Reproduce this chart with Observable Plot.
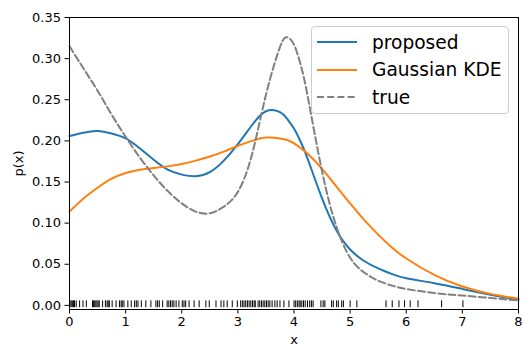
<!DOCTYPE html>
<html>
<head>
<meta charset="utf-8">
<script src="https://cdn.jsdelivr.net/npm/d3@7"></script>
<script src="https://cdn.jsdelivr.net/npm/@observablehq/plot@0.6"></script>
<style>
  html, body { margin: 0; padding: 0; background: white; }
  #wrap { position: relative; width: 522px; height: 347px; font-family: "DejaVu Sans", sans-serif; }
  #legend { position: absolute; left: 311px; top: 26px; width: 198px; height: 88px;
    border: 1px solid #cccccc; border-radius: 4px; background: rgba(255,255,255,0.8); box-sizing: border-box; }
  .entry { position: absolute; left: 0; height: 28px; display: flex; align-items: center; }
  .entry svg { margin-left: 5px; }
  .entry span { margin-left: 15px; font-size: 18.6px; color: black; white-space: nowrap; }
</style>
</head>
<body>
<div id="wrap"></div>
<script>
// Grid of x values along the density curves
const xs = [0, 0.25, 0.5, 0.75, 1, 1.25, 1.5, 1.75, 2, 2.25, 2.5, 2.75, 3, 3.25, 3.5, 3.75, 3.875, 4, 4.125, 4.25, 4.5, 4.75, 5, 5.25, 5.5, 5.75, 6, 6.5, 7, 7.5, 8];
// "proposed" estimate
const proposed = [0.206, 0.210, 0.212, 0.209, 0.203, 0.191, 0.177, 0.165, 0.159, 0.157, 0.162, 0.176, 0.196, 0.219, 0.236, 0.235, 0.227, 0.215, 0.198, 0.177, 0.130, 0.092, 0.068, 0.054, 0.045, 0.038, 0.033, 0.027, 0.020, 0.013, 0.007];
// Gaussian KDE
const kde = [0.114, 0.130, 0.143, 0.154, 0.161, 0.165, 0.167, 0.169, 0.172, 0.176, 0.181, 0.187, 0.194, 0.200, 0.204, 0.203, 0.201, 0.197, 0.191, 0.184, 0.166, 0.145, 0.124, 0.104, 0.086, 0.070, 0.057, 0.037, 0.023, 0.014, 0.008];
// true density
const truth = [0.315, 0.288, 0.261, 0.232, 0.205, 0.180, 0.158, 0.139, 0.124, 0.114, 0.112, 0.120, 0.138, 0.183, 0.256, 0.314, 0.326, 0.317, 0.291, 0.252, 0.163, 0.097, 0.058, 0.040, 0.030, 0.024, 0.020, 0.015, 0.012, 0.009, 0.006];
// rug of sample points
const rugX = [0.01, 0.03, 0.05, 0.07, 0.09, 0.12, 0.18, 0.24, 0.30, 0.41, 0.43, 0.45, 0.47, 0.49, 0.51, 0.53, 0.59, 0.64, 0.67, 0.69, 0.71, 0.76, 0.83, 0.89, 0.92, 0.94, 0.97, 1.04, 1.10, 1.16, 1.19, 1.22, 1.28,
  1.36, 1.45, 1.54, 1.57, 1.60, 1.66, 1.74, 1.77, 1.80, 1.83, 1.86, 1.90, 1.95, 2.01, 2.04, 2.07, 2.13, 2.22, 2.31, 2.43, 2.49, 2.61, 2.70,
  2.75, 2.81, 2.90, 2.99, 3.05, 3.08, 3.11, 3.14, 3.17, 3.20, 3.23, 3.26, 3.29, 3.31, 3.36, 3.39, 3.42, 3.45, 3.48, 3.51, 3.54, 3.57, 3.61, 3.66, 3.70, 3.75, 3.82, 3.91, 4.00, 4.03, 4.06, 4.09, 4.11,
  4.14, 4.17, 4.20, 4.24, 4.28, 4.31, 4.34, 4.48, 4.52, 4.55, 4.67, 4.70, 4.76, 4.79, 4.85, 4.88, 5.00, 5.12,
  5.64, 5.75, 5.87, 5.97, 6.07, 6.21, 6.63, 7.01];
const xTicks = [0, 1, 2, 3, 4, 5, 6, 7, 8];
const yTicks = [0, 0.05, 0.10, 0.15, 0.20, 0.25, 0.30, 0.35];
const seriesNames = ["proposed", "Gaussian KDE", "true"];
const seriesColors = ["#1f77b4", "#ff7f0e", "#808080"];
const seriesDash = [null, null, "7,3.2"];

const rows = xs.map((x, i) => ({x, proposed: proposed[i], kde: kde[i], truth: truth[i]}));
const keys = ["proposed", "kde", "truth"];

const plot = Plot.plot({
  width: 522, height: 347,
  marginLeft: 69, marginRight: 4, marginTop: 17, marginBottom: 38,
  x: {domain: [0, 8]},
  y: {domain: [-0.005, 0.35]},
  style: {fontFamily: "DejaVu Sans, sans-serif", fontSize: "13px", color: "black", background: "white", overflow: "visible"},
  marks: [
    Plot.axisX({ticks: xTicks, tickSize: 4.5, tickPadding: 3, tickFormat: d => String(d), label: "x", labelAnchor: "center", labelArrow: "none", labelOffset: 34}),
    Plot.axisY({ticks: yTicks, tickSize: 4.5, tickPadding: 4, tickFormat: d3.format(".2f"), label: "p(x)", labelAnchor: "center", labelArrow: "none", labelOffset: 56}),
    Plot.ruleX(rugX, {x: d => d, y1: -0.0028, y2: 0.0055, stroke: "black", strokeWidth: 1}),
    ...keys.map((k, i) => Plot.line(rows, {x: "x", y: k, stroke: seriesColors[i], strokeWidth: 2, strokeDasharray: seriesDash[i], curve: "natural"})),
    Plot.frame({stroke: "black", strokeWidth: 1})
  ]
});

const wrap = document.getElementById("wrap");
wrap.appendChild(plot);

const legend = document.createElement("div");
legend.id = "legend";
seriesNames.forEach((name, i) => {
  const e = document.createElement("div");
  e.className = "entry";
  e.style.top = (1 + i * 27.7) + "px";
  const svg = d3.create("svg").attr("width", 40).attr("height", 10);
  svg.append("line").attr("x1", 0).attr("x2", 40).attr("y1", 5).attr("y2", 5)
    .attr("stroke", seriesColors[i]).attr("stroke-width", 2)
    .attr("stroke-dasharray", seriesDash[i]);
  e.appendChild(svg.node());
  const s = document.createElement("span");
  s.textContent = name;
  e.appendChild(s);
  legend.appendChild(e);
});
wrap.appendChild(legend);
</script>
</body>
</html>
